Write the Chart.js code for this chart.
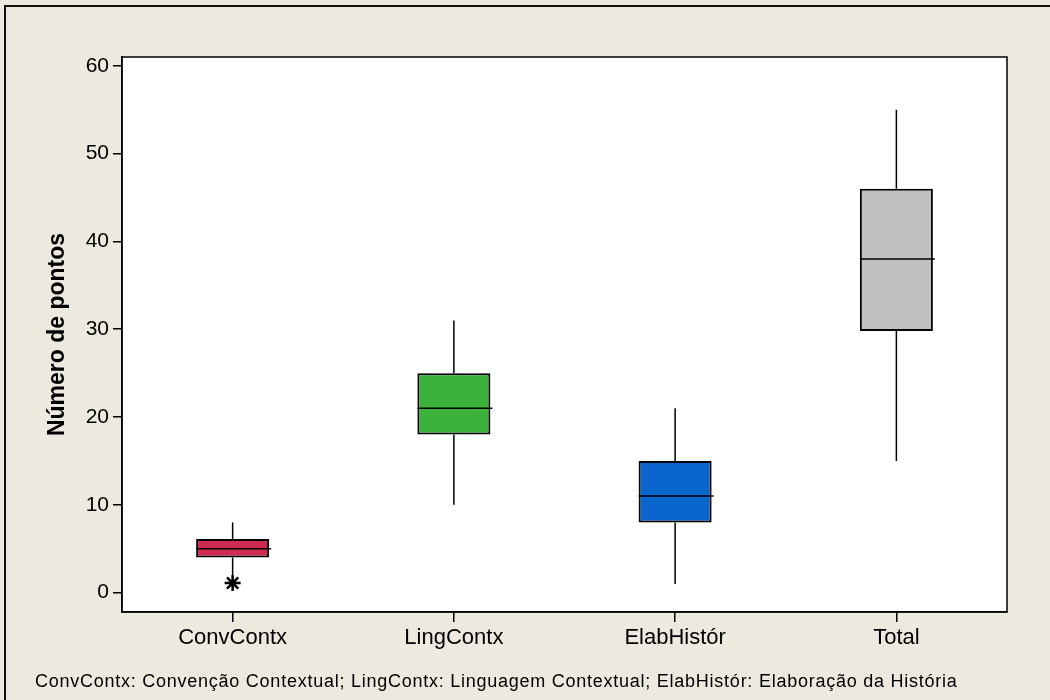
<!DOCTYPE html>
<html>
<head>
<meta charset="utf-8">
<script src="https://cdn.jsdelivr.net/npm/chart.js@4/dist/chart.umd.min.js"></script>
<style>
  html, body { margin: 0; padding: 0; background: #ede9df; }
  canvas { display: block; }
</style>
</head>
<body>
<canvas id="boxChart" width="1050" height="700"></canvas>
<script>
// dados (box plot)
const categorias = ['ConvContx', 'LingContx', 'ElabHistór', 'Total'];
const minimos = [2, 10, 1, 15];
const q1 = [4, 18, 8, 29.8];
const medianas = [5, 21, 11, 38];
const q3 = [6.1, 25, 15, 46];
const maximos = [8, 31, 21, 55];
const outliers = [1.1, null, null, null];
const cores = ['#cf2a50', '#3db23b', '#0a66cc', '#c0c0c0'];
const yTicks = [0, 10, 20, 30, 40, 50, 60];
const rodape = 'ConvContx: Convenção Contextual; LingContx: Linguagem Contextual; ElabHistór: Elaboração da História';

const FONTE = '"Liberation Sans", Arial, sans-serif';

// fundo, moldura, bigodes e medianas
const boxPlugin = {
  id: 'boxPlugin',
  beforeDraw(chart) {
    const { ctx, chartArea: a } = chart;
    ctx.save();
    ctx.fillStyle = '#ede9df';
    ctx.fillRect(0, 0, chart.width, chart.height);
    ctx.strokeStyle = '#111';
    ctx.lineWidth = 2;
    ctx.beginPath();
    ctx.moveTo(5, chart.height);
    ctx.lineTo(5, 6);
    ctx.lineTo(chart.width, 6);
    ctx.stroke();
    ctx.fillStyle = '#fff';
    ctx.fillRect(a.left, a.top, a.right - a.left, a.bottom - a.top);
    ctx.restore();
  },
  beforeDatasetsDraw(chart) {
    const { ctx } = chart;
    const y = chart.scales.y;
    const meta = chart.getDatasetMeta(0);
    ctx.save();
    ctx.strokeStyle = '#000';
    ctx.lineWidth = 1.5;
    meta.data.forEach((bar, i) => {
      ctx.beginPath();
      ctx.moveTo(bar.x, y.getPixelForValue(maximos[i]));
      ctx.lineTo(bar.x, y.getPixelForValue(q3[i]));
      ctx.moveTo(bar.x, y.getPixelForValue(q1[i]));
      ctx.lineTo(bar.x, y.getPixelForValue(minimos[i]));
      ctx.stroke();
    });
    ctx.restore();
  },
  afterDatasetsDraw(chart) {
    const { ctx, chartArea: a } = chart;
    const y = chart.scales.y;
    const meta = chart.getDatasetMeta(0);
    ctx.save();
    ctx.strokeStyle = '#000';
    ctx.lineWidth = 1.5;
    meta.data.forEach((bar, i) => {
      const py = y.getPixelForValue(medianas[i]);
      ctx.beginPath();
      ctx.moveTo(bar.x - bar.width / 2, py);
      ctx.lineTo(bar.x + bar.width / 2 + 2, py);
      ctx.stroke();
    });
    // moldura da área do gráfico
    ctx.lineWidth = 1.5;
    ctx.strokeRect(a.left, a.top, a.right - a.left, a.bottom - a.top);
    ctx.restore();
  },
  afterDraw(chart) {
    const { ctx } = chart;
    ctx.save();
    ctx.fillStyle = '#000';
    ctx.font = '18px ' + FONTE;
    ctx.letterSpacing = '0.75px';
    ctx.textBaseline = 'alphabetic';
    ctx.fillText(rodape, 35, 687);
    ctx.restore();
  }
};

new Chart(document.getElementById('boxChart'), {
  data: {
    labels: categorias,
    datasets: [
      {
        type: 'bar',
        data: q1.map((v, i) => [v, q3[i]]),
        backgroundColor: cores,
        borderColor: '#000',
        borderWidth: 2,
        borderSkipped: false,
        categoryPercentage: 1,
        barPercentage: 0.33
      },
      {
        type: 'line',
        data: outliers,
        showLine: false,
        pointStyle: 'star',
        pointRadius: 8,
        borderColor: '#000',
        backgroundColor: '#000',
        borderWidth: 2.5
      }
    ]
  },
  options: {
    responsive: false,
    devicePixelRatio: 1,
    animation: false,
    layout: { padding: { left: 40, top: 57, right: 43, bottom: 38 } },
    plugins: { legend: { display: false }, tooltip: { enabled: false } },
    scales: {
      x: {
        type: 'category',
        offset: true,
        grid: { display: true, offset: false, drawOnChartArea: false, drawTicks: true, tickLength: 10, color: '#000', lineWidth: 1.5 },
        border: { display: true, color: '#000', width: 1.5 },
        ticks: { color: '#000', font: { family: FONTE, size: 22 }, padding: 3 },
        afterFit: (s) => { s.height = 50; }
      },
      y: {
        min: -2.2,
        max: 61,
        afterBuildTicks: (s) => { s.ticks = yTicks.map(v => ({ value: v })); },
        grid: { display: true, drawOnChartArea: false, drawTicks: true, tickLength: 9, color: '#000', lineWidth: 1.5 },
        border: { display: true, color: '#000', width: 1.5 },
        ticks: { color: '#000', font: { family: FONTE, size: 21 }, padding: 4 },
        title: {
          display: true,
          text: 'Número de pontos',
          color: '#000',
          font: { family: FONTE, size: 23, weight: 'bold' },
          padding: { top: 4, bottom: 4 }
        },
        afterFit: (s) => { s.width = 82; }
      }
    }
  },
  plugins: [boxPlugin]
});
</script>
</body>
</html>
